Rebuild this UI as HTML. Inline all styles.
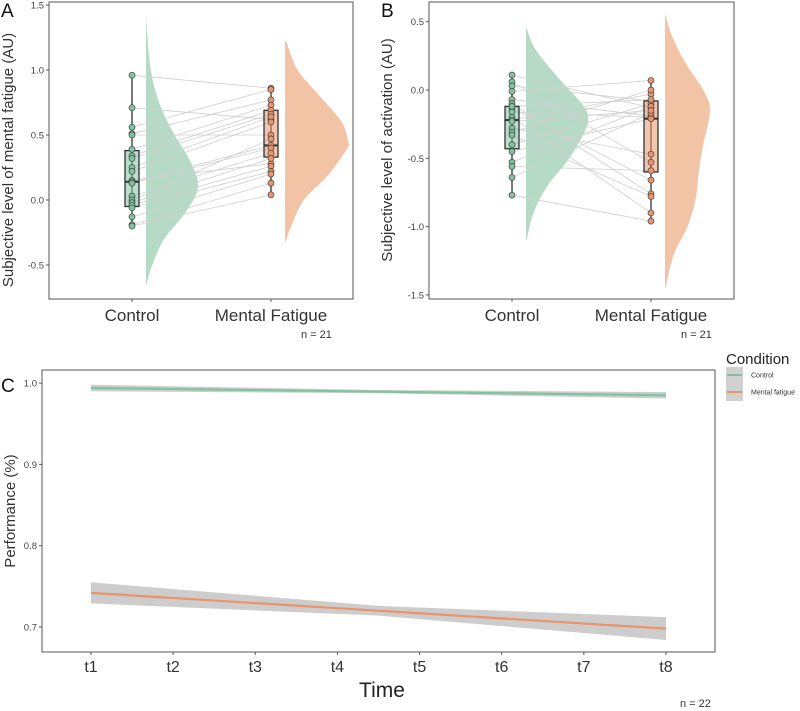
<!DOCTYPE html>
<html><head><meta charset="utf-8"><style>
html,body{margin:0;padding:0;background:#fff}
svg{display:block;font-family:"Liberation Sans",sans-serif}
</style></head><body>
<svg id="fig" width="800" height="711" viewBox="0 0 800 711" xmlns="http://www.w3.org/2000/svg"></svg>
<script>
// ---------- data ----------
const groupsAB = ["Control","Mental Fatigue"];
const aControl = [0.96,0.71,0.56,0.51,0.50,0.39,0.34,0.32,0.25,0.22,0.15,0.14,0.13,0.03,0.0,-0.02,-0.04,-0.06,-0.13,-0.19,-0.20];
const aFatigue = [0.86,0.62,0.85,0.77,0.50,0.73,0.69,0.66,0.64,0.60,0.28,0.42,0.40,0.36,0.47,0.32,0.26,0.22,0.20,0.13,0.04];
const aControlBox = [-0.20,-0.05,0.14,0.38,0.96];
const aFatigueBox = [0.04,0.33,0.42,0.69,0.86];
const aControlDensV = [-0.65,-0.5,-0.3,-0.1,0.1,0.3,0.5,0.7,0.9,1.1,1.3,1.42];
const aControlDensW = [0.01,0.12,0.35,0.75,1.0,0.85,0.55,0.3,0.14,0.06,0.02,0.0];
const aFatigueDensV = [-0.32,-0.2,0,0.2,0.4,0.45,0.6,0.8,1.0,1.22];
const aFatigueDensW = [0.01,0.1,0.3,0.7,0.99,1.0,0.9,0.55,0.2,0.02];
const aTicks = [-0.5,0.0,0.5,1.0,1.5];

const bControl = [0.11,0.06,0.03,-0.01,-0.07,-0.10,-0.13,-0.16,-0.20,-0.22,-0.28,-0.31,-0.33,-0.40,-0.45,-0.53,-0.56,-0.64,-0.77,-0.23,-0.12];
const bFatigue = [-0.13,-0.53,-0.08,0.07,-0.19,-0.76,-0.66,-0.20,-0.90,-0.03,-0.47,0.0,-0.78,-0.10,-0.21,-0.12,-0.59,-0.17,-0.96,-0.15,-0.07];
const bControlBox = [-0.77,-0.43,-0.22,-0.12,0.11];
const bFatigueBox = [-0.96,-0.60,-0.21,-0.08,0.07];
const bControlDensV = [-1.1,-0.9,-0.7,-0.5,-0.3,-0.2,-0.1,0.1,0.3,0.45];
const bControlDensW = [0.01,0.12,0.35,0.7,0.95,1.0,0.9,0.5,0.15,0.01];
const bFatigueDensV = [-1.45,-1.2,-1.0,-0.8,-0.6,-0.4,-0.15,0,0.2,0.4,0.55];
const bFatigueDensW = [0.01,0.2,0.5,0.68,0.75,0.85,1.0,0.85,0.45,0.15,0.01];
const bTicks = [-1.5,-1.0,-0.5,0.0,0.5];

const timeLabels = ["t1","t2","t3","t4","t5","t6","t7","t8"];
const cControlStart = 0.994, cControlEnd = 0.985;
const cFatigueStart = 0.742, cFatigueEnd = 0.698;
const cControlCI = [0.004,0.002,0.004];
const cFatigueCI = [0.013,0.006,0.014];
const cTicks = [0.7,0.8,0.9,1.0];

// ---------- helpers ----------
const NS="http://www.w3.org/2000/svg";
const svg=document.getElementById('fig');
function mk(tag,attrs,parent,text){const e=document.createElementNS(NS,tag);for(const k in attrs)e.setAttribute(k,attrs[k]);if(text!==undefined)e.textContent=text;(parent||svg).appendChild(e);return e;}
const GREEN="#7fc3a0",GREENV="#b5dbc6",ORANGE="#e8956c",ORANGEV="#f2c3a4";

function smoothPath(pts){
  let d=`M${pts[0][0]},${pts[0][1]}`;
  for(let i=0;i<pts.length-1;i++){
    const p0=pts[Math.max(0,i-1)],p1=pts[i],p2=pts[i+1],p3=pts[Math.min(pts.length-1,i+2)];
    const c1=[p1[0]+(p2[0]-p0[0])/6,p1[1]+(p2[1]-p0[1])/6];
    const c2=[p2[0]-(p3[0]-p1[0])/6,p2[1]-(p3[1]-p1[1])/6];
    d+=` C${c1[0]},${c1[1]} ${c2[0]},${c2[1]} ${p2[0]},${p2[1]}`;
  }
  return d;
}

function rainPanel(o){
  const g=mk('g',{});
  
  
  const y=v=>o.y0+(v-o.v0)*o.k;
  [[o.cv,o.cw,o.cx0,o.cmax,GREENV,'control'],[o.fv,o.fw,o.fx0,o.fmax,ORANGEV,'fatigue']].forEach(([vs,ws,x0,mx,col,nm])=>{
    const pts=vs.map((v,i)=>[x0+ws[i]*mx,y(v)]);
    let d=`M${x0},${y(vs[0])} L`+smoothPath(pts).slice(1);
    d+=` L${x0},${y(vs[vs.length-1])} Z`;
    const p=mk('path',{d,fill:col,stroke:'none'},g);
    
    
  });
  o.c.forEach((v,i)=>{
    const l=mk('line',{x1:o.xc,y1:y(v),x2:o.xf,y2:y(o.f[i]),stroke:'#cfcfcf','stroke-width':0.8},g);
    
    
  });
  [[o.cb,o.xc,GREEN,'control'],[o.fb,o.xf,ORANGE,'fatigue']].forEach(([b,x,col,nm])=>{
    const w=mk('line',{x1:x,y1:y(b[0]),x2:x,y2:y(b[4]),stroke:'#333','stroke-width':1.3},g);
    
    
    const r=mk('rect',{x:x-7,y:y(b[3]),width:14,height:y(b[1])-y(b[3]),fill:col,'fill-opacity':0.55,stroke:'#333','stroke-width':1.3},g);
    
    
    const m=mk('line',{x1:x-7,y1:y(b[2]),x2:x+7,y2:y(b[2]),stroke:'#333','stroke-width':2},g);
    
    
  });
  [[o.c,o.xc,GREEN,'control'],[o.f,o.xf,ORANGE,'fatigue']].forEach(([arr,x,col,nm])=>{
    arr.forEach(v=>{
      const c=mk('circle',{cx:x,cy:y(v),r:3,fill:col,stroke:'#444','stroke-width':0.7},g);
      
      
    });
  });
  const fr=mk('rect',{x:o.L,y:o.T,width:o.R-o.L,height:o.B-o.T,fill:'none',stroke:'#555','stroke-width':1},g);
  
  
  o.ticks.forEach(t=>{
    mk('line',{x1:o.L-3,x2:o.L,y1:y(t),y2:y(t),stroke:'#555'},g);
    const tx=mk('text',{x:o.L-5,y:y(t)+3.5,'font-size':9.5,'text-anchor':'end',fill:'#444'},g,t.toFixed(1));
    
    
  });
  [[o.xc,groupsAB[0]],[o.xf,groupsAB[1]]].forEach(([x,l])=>{
    mk('line',{x1:x,x2:x,y1:o.B,y2:o.B+3,stroke:'#555'},g);
    const tx=mk('text',{x:x,y:o.B+22,'font-size':17,'text-anchor':'middle',fill:'#333'},g,l);
    
    
  });
  const yt=mk('text',{x:0,y:0,'font-size':15,'text-anchor':'middle',fill:'#333',transform:`translate(${o.titleX},${o.titleY}) rotate(-90)`},g,o.title);
  
  
  const n=mk('text',{x:o.nX,y:338,'font-size':11,fill:'#333'},g,'n = 21');
  
  
  const pl=mk('text',{x:o.labX,y:17,'font-size':19,fill:'#111'},g,o.label);
  
  
}

rainPanel({name:'panel-a',L:49,R:353,T:2,B:299,y0:200,v0:0,k:-130,xc:132,xf:271,
  c:aControl,f:aFatigue,cb:aControlBox,fb:aFatigueBox,
  cv:aControlDensV,cw:aControlDensW,cx0:146,cmax:52,fv:aFatigueDensV,fw:aFatigueDensW,fx0:285,fmax:63,
  ticks:aTicks,title:'Subjective level of mental fatigue (AU)',titleX:13,titleY:160,nX:301,label:'A',labX:1});
rainPanel({name:'panel-b',L:429,R:734,T:2,B:299,y0:90,v0:0,k:-136.6,xc:512,xf:651,
  c:bControl,f:bFatigue,cb:bControlBox,fb:bFatigueBox,
  cv:bControlDensV,cw:bControlDensW,cx0:526,cmax:62,fv:bFatigueDensV,fw:bFatigueDensW,fx0:665,fmax:45,
  ticks:bTicks,title:'Subjective level of activation (AU)',titleX:392,titleY:150,nX:681,label:'B',labX:381});

// ---------- panel C ----------
(function(){
  const g=mk('g',{});
  
  
  const L=42,R=715,T=370,B=652;
  const x=i=>91+i*82.14;
  const y=v=>627-(v-0.7)*813;
  const n=timeLabels.length-1;
  function band(s,e,ci,col,nm){
    const mid=(s+e)/2;
    const up=[[x(0),s+ci[0]],[x(n/2),mid+ci[1]],[x(n),e+ci[2]]];
    const lo=[[x(n),e-ci[2]],[x(n/2),mid-ci[1]],[x(0),s-ci[0]]];
    const d='M'+up.concat(lo).map(p=>p[0]+','+y(p[1])).join(' L')+' Z';
    const p=mk('path',{d,fill:'#c8c8c8','fill-opacity':0.9},g);
    
    
    const l=mk('line',{x1:x(0),y1:y(s),x2:x(n),y2:y(e),stroke:col,'stroke-width':2.2},g);
    
    
  }
  band(cControlStart,cControlEnd,cControlCI,GREEN,'control');
  band(cFatigueStart,cFatigueEnd,cFatigueCI,ORANGE,'fatigue');
  const fr=mk('rect',{x:L,y:T,width:R-L,height:B-T,fill:'none',stroke:'#555','stroke-width':1},g);
  
  
  cTicks.forEach(t=>{
    mk('line',{x1:L-3,x2:L,y1:y(t),y2:y(t),stroke:'#555'},g);
    const tx=mk('text',{x:L-5,y:y(t)+3.5,'font-size':9.5,'text-anchor':'end',fill:'#444'},g,t.toFixed(1));
    
    
  });
  timeLabels.forEach((t,i)=>{
    mk('line',{x1:x(i),x2:x(i),y1:B,y2:B+3,stroke:'#555'},g);
    const tx=mk('text',{x:x(i),y:B+20,'font-size':16,'text-anchor':'middle',fill:'#333'},g,t);
    
    
  });
  const xt=mk('text',{x:382,y:697,'font-size':21,'text-anchor':'middle',fill:'#222'},g,'Time');
  
  
  const yt=mk('text',{x:0,y:0,'font-size':15,'text-anchor':'middle',fill:'#333',transform:`translate(15,${(T+B)/2}) rotate(-90)`},g,'Performance (%)');
  
  
  const nn=mk('text',{x:680,y:707,'font-size':11,fill:'#333'},g,'n = 22');
  
  
  const pl=mk('text',{x:1,y:392,'font-size':19,fill:'#111'},g,'C');
  
  
  const lg=mk('g',{},g);
  
  
  const lt=mk('text',{x:726,y:364,'font-size':15,fill:'#222'},lg,'Condition');
  
  
  [['Control',GREEN,375],['Mental fatigue',ORANGE,392]].forEach(([l,c,yy])=>{
    const e=mk('g',{},lg);
    
    
    mk('rect',{x:726,y:yy-8,width:17,height:17,fill:'#d0d0d0'},e);
    mk('line',{x1:727,x2:742,y1:yy,y2:yy,stroke:c,'stroke-width':2},e);
    mk('text',{x:751,y:yy+2.5,'font-size':7,fill:'#333'},e,l);
  });
})();
</script>
</body></html>
